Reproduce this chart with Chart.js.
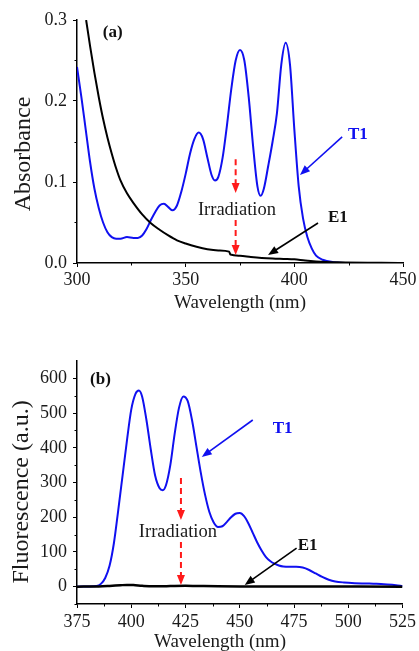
<!DOCTYPE html>
<html>
<head>
<meta charset="utf-8">
<script src="https://cdn.jsdelivr.net/npm/chart.js@4.4.1/dist/chart.umd.min.js"></script>
<style>
  html, body { margin: 0; padding: 0; background: #fff; }
  #wrap { position: relative; width: 419px; height: 651px; overflow: hidden; }
  #absChart { position: absolute; left: 0; top: 0; }
  #fluChart { position: absolute; left: 0; top: 320px; }
</style>
</head>
<body>
<div id="wrap">
  <canvas id="absChart" width="419" height="320"></canvas>
  <canvas id="fluChart" width="419" height="331"></canvas>
</div>
<script>
// ---- (a) absorbance ----
const absWlT1 = [300, 302, 304, 306, 308, 310, 312, 314, 316, 318, 320, 323, 326, 328, 330, 332, 334, 336, 338, 340,
  342, 344, 346, 348, 350, 352, 354, 356, 358, 360, 362, 363.5, 365, 367, 369, 371, 373, 375, 377, 379, 381, 383,
  384.5, 386, 388, 390, 392, 394, 396, 398, 400, 402, 404, 406, 408, 410, 413, 418, 425, 450];
const absT1 = [0.242, 0.205, 0.165, 0.125, 0.092, 0.068, 0.050, 0.038, 0.032, 0.030, 0.030, 0.032, 0.031, 0.031, 0.034,
  0.042, 0.053, 0.063, 0.071, 0.073, 0.069, 0.065, 0.071, 0.088, 0.110, 0.135, 0.153, 0.161, 0.153, 0.130, 0.108,
  0.102, 0.106, 0.130, 0.170, 0.215, 0.250, 0.263, 0.250, 0.205, 0.145, 0.095, 0.083, 0.092, 0.120, 0.150, 0.185,
  0.245, 0.272, 0.245, 0.165, 0.095, 0.055, 0.032, 0.018, 0.009, 0.004, 0.001, 0, 0];
const absWlE1 = [304.2, 306, 308, 310, 312, 314, 316, 318, 320, 323, 326, 330, 334, 338, 342, 346, 350, 355, 360, 365,
  370, 370.6, 375, 380, 385, 390, 395, 400, 405, 410, 420, 450];
const absE1 = [0.300, 0.268, 0.235, 0.205, 0.178, 0.155, 0.135, 0.117, 0.102, 0.086, 0.074, 0.060, 0.049, 0.041, 0.034,
  0.028, 0.024, 0.020, 0.017, 0.0155, 0.014, 0.0105, 0.009, 0.0075, 0.0063, 0.0055, 0.005, 0.0045, 0.003, 0.002,
  0.001, 0];
const absTicksX = [300, 350, 400, 450];
const absTicksY = [0, 0.1, 0.2, 0.3];
const absMinorX = [325, 375, 425];
const absMinorY = [0.05, 0.15, 0.25];

// ---- (b) fluorescence ----
const fluWlT1 = [375, 380, 384, 386, 388, 390, 392, 394, 396, 398, 400, 402, 403.5, 405, 407, 409, 411, 413, 414.5, 416,
  418, 420, 422, 424, 426, 428, 430, 432, 434, 436, 438, 440, 442, 444, 446, 448, 450, 452, 454, 456, 458, 460, 462,
  464, 466, 468, 470, 473, 476, 479, 482, 485, 488, 491, 494, 498, 503, 508, 513, 518, 522, 525];
const fluT1 = [0, 0.5, 2, 8, 25, 60, 125, 220, 320, 420, 510, 556, 565, 548, 480, 395, 320, 284, 278, 292, 350, 440,
  515, 548, 535, 480, 405, 330, 265, 215, 185, 172, 174, 186, 200, 210, 212, 203, 182, 155, 128, 105, 86, 74, 66, 61,
  58, 57, 57, 55, 48, 38, 28, 20, 15, 12, 10, 9, 8, 6, 4, 2];
const fluWlE1 = [375, 385, 390, 395, 398, 401, 405, 410, 415, 420, 425, 430, 440, 450, 470, 500, 525];
const fluE1 = [0, 0.5, 2, 4, 5, 4.5, 2.5, 1, 1, 2, 2.5, 2, 1, 0.5, 0.5, 0.3, 0];
const fluTicksX = [375, 400, 425, 450, 475, 500, 525];
const fluTicksY = [0, 100, 200, 300, 400, 500, 600];
const fluMinorX = [387.5, 412.5, 437.5, 462.5, 487.5, 512.5];
const fluMinorY = [-50, 50, 150, 250, 350, 450, 550];

const FONT = '"Liberation Serif", "Times New Roman", serif';
const BLUE = '#1010f0';

function pts(xs, ys) {
  return xs.map((x, i) => ({ x: x, y: ys[i] }));
}

function arrowHead(ctx, x1, y1, x2, y2, len, half) {
  const a = Math.atan2(y2 - y1, x2 - x1);
  ctx.beginPath();
  ctx.moveTo(x2, y2);
  ctx.lineTo(x2 - len * Math.cos(a) + half * Math.sin(a), y2 - len * Math.sin(a) - half * Math.cos(a));
  ctx.lineTo(x2 - len * Math.cos(a) - half * Math.sin(a), y2 - len * Math.sin(a) + half * Math.cos(a));
  ctx.closePath();
  ctx.fill();
}

// minor ticks, axis titles, labels and arrows
const decor = {
  id: 'decor',
  afterDraw(chart, args, o) {
    const ctx = chart.ctx;
    const xs = chart.scales.x, ys = chart.scales.y;
    const px = v => xs.getPixelForValue(v);
    const py = v => ys.getPixelForValue(v);
    ctx.save();

    ctx.strokeStyle = '#000';
    ctx.lineWidth = 1;
    o.minorX.forEach(v => {
      const x = Math.round(px(v)) + 0.5;
      ctx.beginPath(); ctx.moveTo(x, ys.bottom); ctx.lineTo(x, ys.bottom + 2.5); ctx.stroke();
    });
    o.minorY.forEach(v => {
      const y = Math.round(py(v)) + 0.5;
      ctx.beginPath(); ctx.moveTo(xs.left, y); ctx.lineTo(xs.left - 2.5, y); ctx.stroke();
    });

    // axis titles
    ctx.fillStyle = '#1a1a1a';
    ctx.textAlign = 'center';
    ctx.textBaseline = 'middle';
    ctx.font = '19px ' + FONT;
    ctx.fillText(o.xTitle.text, o.xTitle.x, o.xTitle.y);
    ctx.save();
    ctx.translate(o.yTitle.x, o.yTitle.y);
    ctx.rotate(-Math.PI / 2);
    ctx.font = '24px ' + FONT;
    ctx.fillText(o.yTitle.text, 0, 0);
    ctx.restore();

    // dashed irradiation arrows
    o.dashed.forEach(d => {
      const x = px(d.x), y1 = py(d.from), y2 = py(d.to);
      ctx.strokeStyle = '#ff1a1a';
      ctx.fillStyle = '#ff1a1a';
      ctx.lineWidth = 2;
      ctx.setLineDash([6, 4]);
      ctx.beginPath(); ctx.moveTo(x, y1); ctx.lineTo(x, y2 - 7); ctx.stroke();
      ctx.setLineDash([]);
      arrowHead(ctx, x, y1, x, y2, 10, 4);
    });

    // solid arrows
    o.arrows.forEach(a => {
      const x1 = px(a.x1), y1 = py(a.y1), x2 = px(a.x2), y2 = py(a.y2);
      ctx.strokeStyle = a.color;
      ctx.fillStyle = a.color;
      ctx.lineWidth = 1.6;
      const ang = Math.atan2(y2 - y1, x2 - x1);
      ctx.beginPath(); ctx.moveTo(x1, y1); ctx.lineTo(x2 - 6 * Math.cos(ang), y2 - 6 * Math.sin(ang)); ctx.stroke();
      arrowHead(ctx, x1, y1, x2, y2, 10, 4);
    });

    // text notes
    o.notes.forEach(n => {
      ctx.fillStyle = n.color;
      ctx.font = n.font;
      ctx.textAlign = n.align;
      ctx.textBaseline = 'middle';
      ctx.fillText(n.text, px(n.x), py(n.y));
    });
    ctx.restore();
  }
};

function makeChart(id, cfg) {
  return new Chart(document.getElementById(id), {
    type: 'line',
    data: {
      datasets: [
        { label: 'E1', data: cfg.e1, borderColor: '#000', borderWidth: cfg.e1Width, pointRadius: 0,
          cubicInterpolationMode: 'monotone', fill: false },
        { label: 'T1', data: cfg.t1, borderColor: BLUE, borderWidth: 2, pointRadius: 0,
          cubicInterpolationMode: 'monotone', fill: false }
      ]
    },
    options: {
      responsive: false,
      animation: false,
      devicePixelRatio: 1,
      layout: { padding: cfg.padding },
      plugins: {
        legend: { display: false },
        tooltip: { enabled: false },
        decor: cfg.decor
      },
      scales: {
        x: {
          type: 'linear', min: cfg.xMin, max: cfg.xMax,
          afterBuildTicks: s => { s.ticks = cfg.ticksX.map(v => ({ value: v })); },
          afterFit: s => { s.height = cfg.xHeight; },
          grid: { drawOnChartArea: false, drawTicks: true, tickLength: 4, color: '#000', lineWidth: 1 },
          border: { display: true, color: '#000', width: 1.5 },
          ticks: { color: '#1a1a1a', padding: cfg.xPad, maxRotation: 0, font: { family: FONT, size: 18 },
            callback: v => String(v) }
        },
        y: {
          type: 'linear', min: cfg.yMin, max: cfg.yMax,
          afterBuildTicks: s => { s.ticks = cfg.ticksY.map(v => ({ value: v })); },
          afterFit: s => { s.width = 77; },
          grid: { drawOnChartArea: false, drawTicks: true, tickLength: 4, color: '#000', lineWidth: 1 },
          border: { display: true, color: '#000', width: 1.5 },
          ticks: { color: '#1a1a1a', padding: 6, font: { family: FONT, size: 18 }, callback: cfg.yFmt }
        }
      }
    },
    plugins: [decor]
  });
}

makeChart('absChart', {
  t1: pts(absWlT1, absT1), e1: pts(absWlE1, absE1), e1Width: 2,
  xMin: 300, xMax: 450, yMin: 0, yMax: 0.3,
  ticksX: absTicksX, ticksY: absTicksY,
  yFmt: v => v.toFixed(1),
  padding: { top: 20, right: 16, left: 0, bottom: 0 },
  xHeight: 57, xPad: 2,
  decor: {
    minorX: absMinorX, minorY: absMinorY,
    xTitle: { text: 'Wavelength (nm)', x: 240, y: 303 },
    yTitle: { text: 'Absorbance', x: 24, y: 154 },
    dashed: [{ x: 373, from: 0.128, to: 0.0864 }, { x: 373, from: 0.053, to: 0.0099 }],
    arrows: [
      { x1: 422, y1: 0.1556, x2: 402.6, y2: 0.1086, color: BLUE },
      { x1: 410.9, y1: 0.0494, x2: 387.9, y2: 0.0099, color: '#000' }
    ],
    notes: [
      { text: '(a)', x: 311.9, y: 0.284, align: 'left', color: '#111', font: 'bold 17px ' + FONT },
      { text: 'T1', x: 424.7, y: 0.158, align: 'left', color: BLUE, font: 'bold 17px ' + FONT },
      { text: 'Irradiation', x: 373.6, y: 0.0654, align: 'center', color: '#1a1a1a', font: '18.5px ' + FONT },
      { text: 'E1', x: 415.5, y: 0.0556, align: 'left', color: '#111', font: 'bold 17px ' + FONT }
    ]
  }
});

makeChart('fluChart', {
  t1: pts(fluWlT1, fluT1), e1: pts(fluWlE1, fluE1), e1Width: 2.5,
  xMin: 375, xMax: 525, yMin: -50, yMax: 650,
  ticksX: fluTicksX, ticksY: fluTicksY,
  yFmt: v => String(v),
  padding: { top: 41, right: 16, left: 0, bottom: 0 },
  xHeight: 47, xPad: 3,
  decor: {
    minorX: fluMinorX, minorY: fluMinorY,
    xTitle: { text: 'Wavelength (nm)', x: 220, y: 322 },
    yTitle: { text: 'Fluorescence (a.u.)', x: 22, y: 172 },
    dashed: [{ x: 422.9, from: 313, to: 192 }, { x: 422.9, from: 128.7, to: 5 }],
    arrows: [
      { x1: 456, y1: 480, x2: 432.5, y2: 373.5, color: BLUE },
      { x1: 476.2, y1: 111, x2: 452.3, y2: 5, color: '#000' }
    ],
    notes: [
      { text: '(b)', x: 381, y: 595, align: 'left', color: '#111', font: 'bold 17px ' + FONT },
      { text: 'T1', x: 465.2, y: 454, align: 'left', color: BLUE, font: 'bold 17px ' + FONT },
      { text: 'Irradiation', x: 421.5, y: 157, align: 'center', color: '#1a1a1a', font: '18.5px ' + FONT },
      { text: 'E1', x: 476.7, y: 117, align: 'left', color: '#111', font: 'bold 17px ' + FONT }
    ]
  }
});
</script>
</body>
</html>
